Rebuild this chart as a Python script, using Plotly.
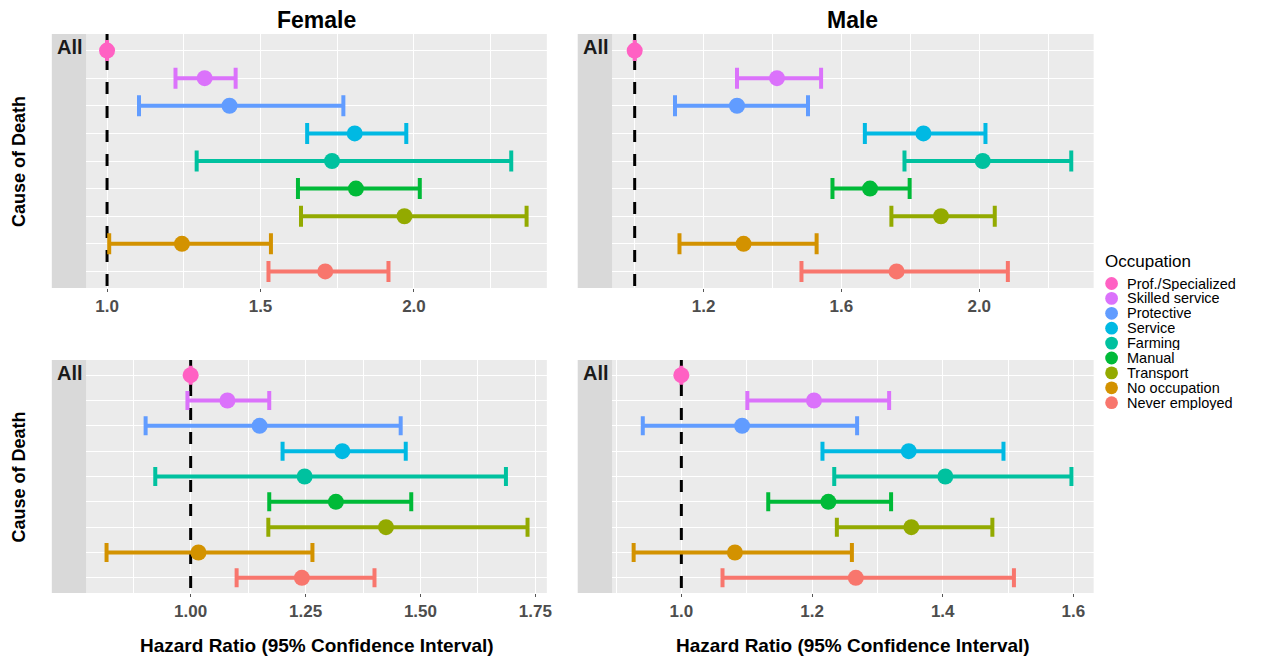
import plotly.graph_objects as go

# ---------------- data ----------------
occupations = ["Prof./Specialized", "Skilled service", "Protective", "Service", "Farming",
               "Manual", "Transport", "No occupation", "Never employed"]
colors = ["#FF61C3", "#DB72FB", "#619CFF", "#00B9E3", "#00C19F",
          "#00BA38", "#93AA00", "#D39200", "#F8766D"]

panel_titles = ["Female", "Male", "", ""]

# top-left (Female)
f1_hr = [1.0, 1.318, 1.399, 1.807, 1.733, 1.811, 1.969, 1.244, 1.711]
f1_lo = [1.0, 1.223, 1.104, 1.652, 1.292, 1.622, 1.632, 1.007, 1.526]
f1_hi = [1.0, 1.419, 1.770, 1.975, 2.317, 2.019, 2.367, 1.534, 1.917]
# top-right (Male)
m1_hr = [1.0, 1.413, 1.297, 1.838, 2.010, 1.683, 1.889, 1.316, 1.760]
m1_lo = [1.0, 1.297, 1.117, 1.668, 1.783, 1.574, 1.745, 1.130, 1.484]
m1_hi = [1.0, 1.541, 1.503, 2.018, 2.267, 1.798, 2.045, 1.528, 2.083]
# bottom-left
f2_hr = [1.0, 1.080, 1.150, 1.330, 1.248, 1.316, 1.425, 1.017, 1.242]
f2_lo = [1.0, 0.993, 0.902, 1.200, 0.923, 1.171, 1.169, 0.817, 1.100]
f2_hi = [1.0, 1.171, 1.457, 1.468, 1.686, 1.480, 1.733, 1.265, 1.400]
# bottom-right
m2_hr = [1.0, 1.203, 1.093, 1.348, 1.404, 1.225, 1.352, 1.082, 1.267]
m2_lo = [1.0, 1.101, 0.941, 1.216, 1.234, 1.133, 1.238, 0.927, 1.063]
m2_hi = [1.0, 1.318, 1.269, 1.493, 1.597, 1.321, 1.476, 1.261, 1.509]

series = [(f1_hr, f1_lo, f1_hi), (m1_hr, m1_lo, m1_hi),
          (f2_hr, f2_lo, f2_hi), (m2_hr, m2_lo, m2_hi)]

# ---------------- layout geometry (page pixels) ----------------
PAGE_OFF = 8                      # default body margin of the html page
W, H = 1262 - PAGE_OFF, 660 - PAGE_OFF
FONT = "Liberation Sans, Arial, sans-serif"

panels = [
    dict(strip=(52, 86.5), right=549, top=34, bottom=288, rng=(0.932, 2.433),
         tick0=1.0, dtick=0.5, minor=0.25, fmt=".1f", cap=10.5),
    dict(strip=(580, 614.5), right=1098, top=34, bottom=288, rng=(0.9344, 2.332),
         tick0=1.2, dtick=0.4, minor=0.2, fmt=".1f", cap=10.5),
    dict(strip=(52, 86.5), right=549, top=360, bottom=593, rng=(0.7727, 1.775),
         tick0=1.0, dtick=0.25, minor=0.125, fmt=".2f", cap=9.5),
    dict(strip=(580, 614.5), right=1098, top=360, bottom=593, rng=(0.894, 1.631),
         tick0=1.0, dtick=0.2, minor=0.1, fmt=".1f", cap=9.5),
]


def fx(p):
    return (p - PAGE_OFF) / W


def fy(p):
    return 1 - (p - PAGE_OFF) / H


fig = go.Figure()
shapes = []
annotations = []
layout = {}

for i, (pn, (hr, lo, hi)) in enumerate(zip(panels, series)):
    k = "" if i == 0 else str(i + 1)
    xa, ya = "x" + k, "y" + k
    for j, occ in enumerate(occupations):
        fig.add_trace(go.Scatter(
            x=[hr[j]], y=[occ], mode="markers", xaxis=xa, yaxis=ya,
            showlegend=False, name=occ,
            marker=dict(color=colors[j], size=16, line=dict(width=0)),
            error_x=dict(type="data", symmetric=False,
                         array=[hi[j] - hr[j]], arrayminus=[hr[j] - lo[j]],
                         color=colors[j], thickness=4, width=pn["cap"]),
        ))
    layout["xaxis" + k] = dict(
        domain=[fx(pn["strip"][1]), fx(pn["right"])], anchor=ya,
        range=list(pn["rng"]), tick0=pn["tick0"], dtick=pn["dtick"],
        tickformat=pn["fmt"], showgrid=True, gridcolor="white", gridwidth=1.3,
        zeroline=False, showline=False, ticks="outside", ticklen=3,
        tickcolor="#555555", tickwidth=1,
        tickfont=dict(family=FONT, size=17, color="#4D4D4D", weight="bold"),
        minor=dict(dtick=pn["minor"], tick0=pn["tick0"], showgrid=True,
                   gridcolor="white", gridwidth=0.6, ticks=""),
    )
    layout["yaxis" + k] = dict(
        domain=[fy(pn["bottom"]), fy(pn["top"])], anchor=xa,
        type="category", categoryorder="array", categoryarray=occupations,
        range=[8.6, -0.6], showticklabels=False, ticks="",
        showgrid=True, gridcolor="white", gridwidth=1.3, zeroline=False,
    )
    # strip background
    shapes.append(dict(type="rect", xref="paper", yref="paper",
                       x0=fx(pn["strip"][0]), x1=fx(pn["strip"][1]),
                       y0=fy(pn["bottom"]), y1=fy(pn["top"]),
                       fillcolor="#D9D9D9", line=dict(width=0), layer="below"))
    # reference line at HR = 1 (between grid and points)
    shapes.append(dict(type="line", xref=xa, yref=ya,
                       x0=1, x1=1, y0=-0.6, y1=8.6, layer="between",
                       line=dict(color="black", width=3, dash="12px,12px")))
    # strip label
    annotations.append(dict(text="<b>All</b>", xref="paper", yref="paper",
                            x=fx(pn["strip"][0] + 3), y=fy(pn["top"] + 13),
                            xanchor="left", yanchor="middle", showarrow=False,
                            font=dict(family=FONT, size=20, color="#1A1A1A")))
    cx = fx((pn["strip"][1] + pn["right"]) / 2)
    if panel_titles[i]:
        annotations.append(dict(text="<b>" + panel_titles[i] + "</b>", xref="paper",
                                yref="paper", x=cx, y=fy(20), xanchor="center",
                                yanchor="middle", showarrow=False,
                                font=dict(family=FONT, size=23, color="black")))
    if i >= 2:
        annotations.append(dict(text="<b>Hazard Ratio (95% Confidence Interval)</b>",
                                xref="paper", yref="paper", x=cx, y=fy(645),
                                xanchor="center", yanchor="middle", showarrow=False,
                                font=dict(family=FONT, size=19, color="black")))
    if i in (0, 2):
        annotations.append(dict(text="<b>Cause of Death</b>", xref="paper", yref="paper",
                                x=fx(19), y=fy((pn["top"] + pn["bottom"]) / 2),
                                xanchor="center", yanchor="middle", textangle=-90,
                                showarrow=False,
                                font=dict(family=FONT, size=18, color="black")))

# ---------------- manual legend ----------------
annotations.append(dict(text="Occupation", xref="paper", yref="paper",
                        x=fx(1107), y=fy(261.5), xanchor="left", yanchor="middle",
                        showarrow=False, font=dict(family=FONT, size=17, color="black")))
leg_y0, leg_dy, leg_r = 283.5, 14.9, 6.4
for j, occ in enumerate(occupations):
    yc = leg_y0 + j * leg_dy
    shapes.append(dict(type="circle", xref="paper", yref="paper",
                       x0=fx(1116 - leg_r), x1=fx(1116 + leg_r),
                       y0=fy(yc + leg_r), y1=fy(yc - leg_r),
                       fillcolor=colors[j], line=dict(width=0)))
    annotations.append(dict(text=occ, xref="paper", yref="paper",
                            x=fx(1130), y=fy(yc), xanchor="left", yanchor="middle",
                            showarrow=False, height=14, borderpad=0,
                            font=dict(family=FONT, size=14.5, color="black")))

fig.update_layout(
    width=W, height=H,
    margin=dict(l=0, r=0, t=0, b=0),
    paper_bgcolor="white", plot_bgcolor="#EBEBEB",
    showlegend=False,
    shapes=shapes, annotations=annotations,
    font=dict(family=FONT),
    **layout,
)

fig.write_html("out.html")
